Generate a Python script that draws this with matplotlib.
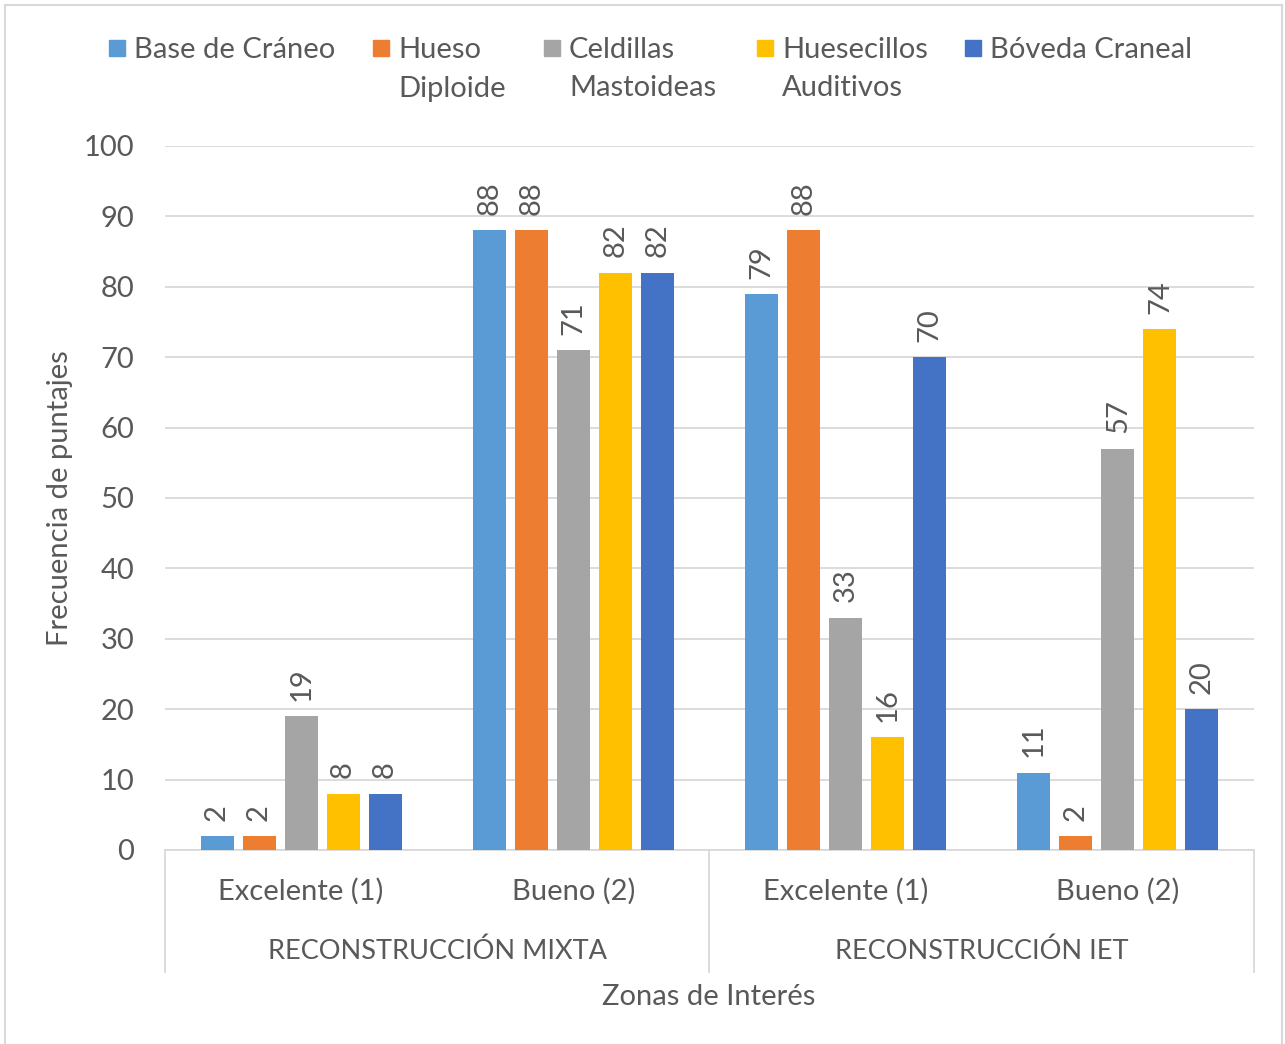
import matplotlib
matplotlib.use("Agg")
import matplotlib.pyplot as plt
from matplotlib.patches import Rectangle
from matplotlib.lines import Line2D
import numpy as np

plt.rcParams['font.family'] = ['Lato', 'DejaVu Sans']

categories = ["Excelente (1)", "Bueno (2)", "Excelente (1)", "Bueno (2)"]
groups = ["RECONSTRUCCIÓN MIXTA", "RECONSTRUCCIÓN IET"]
series_names = ["Base de Cráneo", "Hueso\nDiploide", "Celdillas\nMastoideas", "Huesecillos\nAuditivos", "Bóveda Craneal"]
base_craneo = [2, 88, 79, 11]
hueso_diploide = [2, 88, 88, 2]
celdillas = [19, 71, 33, 57]
huesecillos = [8, 82, 16, 74]
boveda = [8, 82, 70, 20]
series_values = [base_craneo, hueso_diploide, celdillas, huesecillos, boveda]
colors = ["#5B9BD5", "#ED7D31", "#A5A5A5", "#FFC000", "#4472C4"]
yticks = [0, 10, 20, 30, 40, 50, 60, 70, 80, 90, 100]

W, H = 1285, 1044
fig = plt.figure(figsize=(W / 100, H / 100), dpi=100)
txt = "#595959"
grid = "#D9D9D9"
FS = 21

def fx(px):
    return px / W

def fy(py):
    return 1 - py / H

ax = fig.add_axes([fx(165), fy(850), fx(1254) - fx(165), fy(146) - fy(850)])
x = np.arange(len(categories))
step = 42 / 272.25
bw = 33 / 272.25
for i, (vals, c) in enumerate(zip(series_values, colors)):
    pos = x + (i - 2) * step
    ax.bar(pos, vals, width=bw, color=c, zorder=3)
    for p, v in zip(pos, vals):
        ax.annotate(str(v), (p, v), xytext=(0, 11), textcoords="offset points",
                    rotation=90, ha="center", va="bottom", fontsize=FS, color=txt)

ax.set_xlim(-0.5, len(categories) - 0.5)
ax.set_ylim(0, 100)
ax.set_yticks(yticks)
ax.tick_params(axis='y', length=0, labelsize=FS, labelcolor=txt, pad=22)
ax.tick_params(axis='x', length=0, labelsize=FS, labelcolor=txt, pad=20)
ax.set_xticks(x)
ax.set_xticklabels(categories)
ax.yaxis.grid(True, color=grid, linewidth=1.3, zorder=0)
for s in ["top", "right", "left"]:
    ax.spines[s].set_visible(False)
ax.spines["bottom"].set_color(grid)
ax.spines["bottom"].set_linewidth(1.3)
fig.text(fx(60), fy(498), "Frecuencia de puntajes", rotation=90, ha="center", va="center",
         fontsize=FS, color=txt)

# Category group separators
for px in [165, 709, 1254]:
    fig.add_artist(Line2D([fx(px), fx(px)], [fy(850), fy(972)], color=grid, linewidth=1.3))
for g, cx in zip(groups, [437, 982]):
    fig.text(fx(cx), fy(951), g, ha="center", va="center", fontsize=19.5, color=txt)
fig.text(fx(709), fy(997), "Zonas de Interés", ha="center", va="center", fontsize=FS, color=txt)

# Legend
leg_x = [109, 373, 544, 757, 965]
for lx, name, c in zip(leg_x, series_names, colors):
    fig.add_artist(Rectangle((fx(lx), fy(56)), fx(16), fy(40) - fy(56), color=c, transform=fig.transFigure))
    for k, line in enumerate(name.split("\n")):
        fig.text(fx(lx + 25), fy(47 + 39 * k), line, ha="left", va="center_baseline",
                 fontsize=FS, color=txt)

# Chart border
for line in [([fx(5), fx(5)], [fy(5), 0]), ([fx(5), fx(1282)], [fy(5), fy(5)]), ([fx(1282), fx(1282)], [fy(5), 0])]:
    fig.add_artist(Line2D(line[0], line[1], color=grid, linewidth=1.5))

fig.savefig("out.png", dpi=100)
